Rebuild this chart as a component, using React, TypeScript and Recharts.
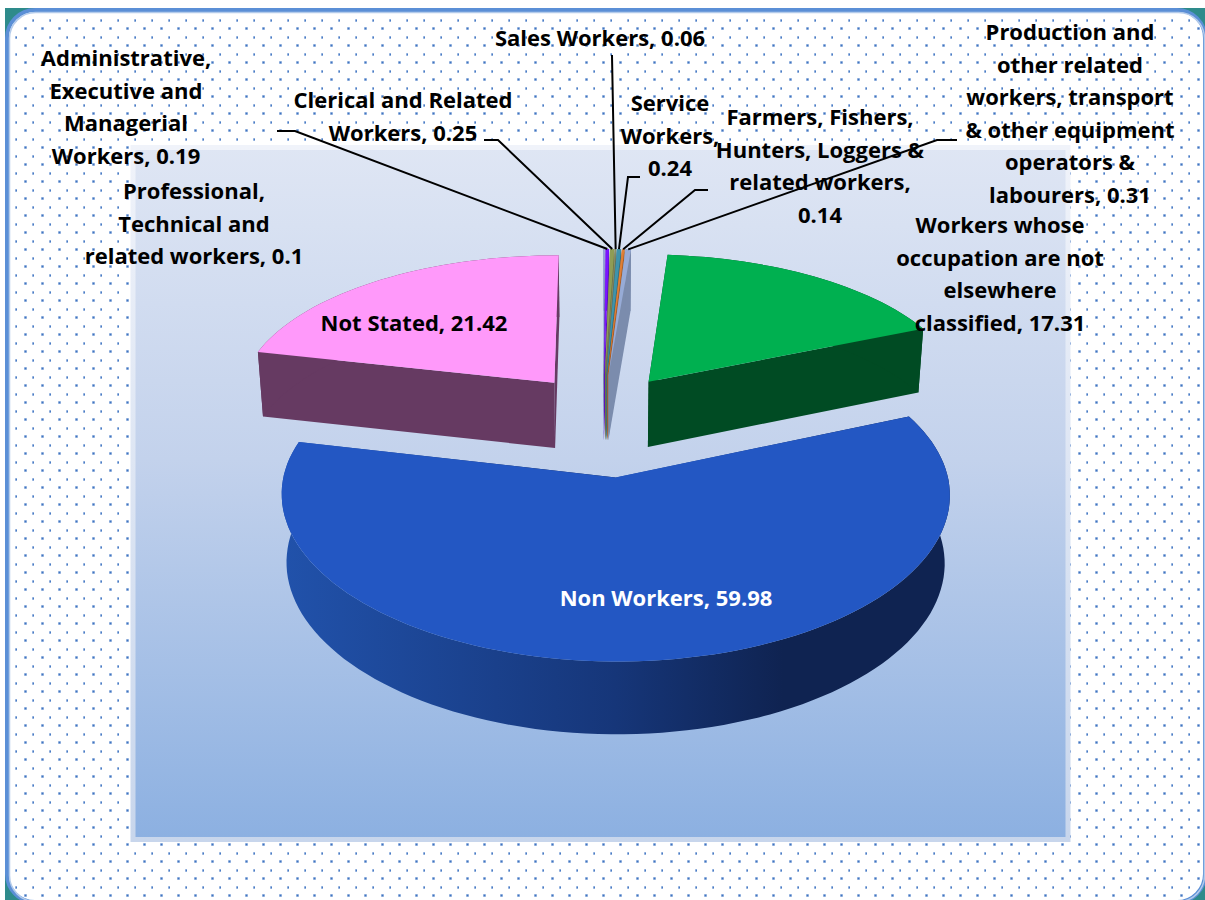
import { PieChart, Pie } from 'recharts'

const categories = [
  'Professional, Technical and related workers',
  'Administrative, Executive and Managerial Workers',
  'Clerical and Related Workers',
  'Sales Workers',
  'Service Workers',
  'Farmers, Fishers, Hunters, Loggers & related workers',
  'Production and other related workers, transport & other equipment operators & labourers',
  'Workers whose occupation are not elsewhere classified',
  'Non Workers',
  'Not Stated',
]
const values = [0.1, 0.19, 0.25, 0.06, 0.24, 0.14, 0.31, 17.31, 59.98, 21.42]
const labelLines = [
  ['Professional,', 'Technical and', 'related workers, 0.1'],
  ['Administrative,', 'Executive and', 'Managerial', 'Workers, 0.19'],
  ['Clerical and Related', 'Workers, 0.25'],
  ['Sales Workers, 0.06'],
  ['Service', 'Workers,', '0.24'],
  ['Farmers, Fishers,', 'Hunters, Loggers &', 'related workers,', '0.14'],
  ['Production and', 'other related', 'workers, transport', '& other equipment', 'operators &', 'labourers, 0.31'],
  ['Workers whose', 'occupation are not', 'elsewhere', 'classified, 17.31'],
  ['Non Workers, 59.98'],
  ['Not Stated, 21.42'],
]

const topColors = ['#9aa6e0', '#7a14ff', '#8f9c55', '#8a8f6a', '#3f93ab', '#e07f35', '#97abd6', '#00b050', '#2357c3', '#ff99fa']
const wallColors = ['#6c74a0', '#5a10c0', '#6b7440', '#6a6e50', '#2f6f80', '#a85f28', '#7b8cad', '#004b23', 'url(#blueWall)', '#663a62']
const explode = [0.25, 0.25, 0.25, 0.25, 0.25, 0.25, 0.25, 0.25, 0.43, 0.25]

// label anchor: centre x, y of first line
const labelPos = [
  [194, 199], [126, 66], [403, 108], [600, 46], [670, 111], [820, 125], [1070, 40], [1000, 233], [666, 606], [414, 331],
]
// elbow of the leader line, from the text end to the knee
const leaders: Record<number, number[][]> = {
  1: [[277, 131], [295, 131]],
  2: [[484, 140], [498, 140]],
  3: [[612, 55], [612, 56]],
  4: [[640, 177], [628, 177]],
  5: [[708, 190], [695, 190]],
  6: [[957, 140], [937, 140]],
}

const tableData = categories.map((name, i) => ({ name, value: values[i] }))

const CX = 603
const CY = 411
const RADIUS = 318
const PERSPECTIVE = 9
const TILT = 1328
const BASE_SHRINK = 0.985
const LINE_H = 32.5

const rad = (deg: number) => (deg * Math.PI) / 180

// maps a point of the pie plane to the screen
function project(cx: number, cy: number, u: number, v: number, bottom = false) {
  const f = PERSPECTIVE / (PERSPECTIVE + v)
  const x = u * Math.pow(f, 0.9) * (bottom ? BASE_SHRINK : 1)
  const y = TILT * (f - 1) + (bottom ? 30 + 36 * f : 0)
  return [cx + x, cy + y]
}

function slicePoints(p: any, index: number, bottom: boolean) {
  const { cx, cy, startAngle, endAngle } = p
  const a0 = 90 - startAngle
  const a1 = 90 - endAngle
  const mid = rad((a0 + a1) / 2)
  const e = explode[index]
  const ou = e * Math.sin(mid)
  const ov = e * Math.cos(mid)
  const steps = Math.max(2, Math.ceil((a1 - a0) / 2))
  const arc: number[][] = []
  for (let i = 0; i <= steps; i++) {
    const t = rad(a0 + ((a1 - a0) * i) / steps)
    const pt = project(cx, cy, (Math.sin(t) + ou) * RADIUS, Math.cos(t) + ov, bottom)
    arc.push(pt)
  }
  return { apex: project(cx, cy, ou * RADIUS, ov, bottom), arc }
}

const toPath = (pts: number[][]) => 'M' + pts.map((q) => q[0].toFixed(1) + ',' + q[1].toFixed(1)).join('L') + 'Z'

function Slice3D(props: any) {
  const index = props.index ?? categories.indexOf(props.name)
  const top = slicePoints(props, index, false)
  const base = slicePoints(props, index, true)
  const wall = wallColors[index]
  const last = top.arc.length - 1
  return (
    <g>
      <path d={toPath([top.apex, top.arc[0], base.arc[0], base.apex])} fill={wall} />
      <path d={toPath([top.apex, top.arc[last], base.arc[last], base.apex])} fill={wall} />
      <path d={toPath([...top.arc, ...[...base.arc].reverse()])} fill={wall} />
      <path d={toPath([top.apex, ...top.arc])} fill={topColors[index]} />
    </g>
  )
}

function SliceLabel(props: any) {
  const i = props.index
  const [x, y] = labelPos[i]
  return (
    <text
      x={x}
      y={y}
      textAnchor="middle"
      fontFamily="'Open Sans', sans-serif"
      fontWeight={700}
      fontSize={22}
      fill={i === 8 ? '#ffffff' : '#000000'}
    >
      {labelLines[i].map((line, k) => (
        <tspan key={k} x={x} y={y + k * LINE_H}>
          {line}
        </tspan>
      ))}
    </text>
  )
}

function LeaderLine(props: any) {
  const i = props.index
  const knee = leaders[i]
  if (!knee) return <g />
  const theta = rad(90 - props.midAngle)
  const e = explode[i]
  const end = project(
    CX,
    CY,
    (Math.sin(theta) + e * Math.sin(theta)) * RADIUS,
    Math.cos(theta) + e * Math.cos(theta),
  )
  const pts = [...knee, end]
  return (
    <polyline
      points={pts.map((q) => q.join(',')).join(' ')}
      fill="none"
      stroke="#000000"
      strokeWidth={2}
    />
  )
}

export default function App() {
  return (
    <div style={{ position: 'absolute', left: 0, top: 0, width: 1205, height: 900, background: '#fff', overflow: 'hidden' }}>
      <svg width={1205} height={900} style={{ position: 'absolute', left: 0, top: 0 }}>
        <defs>
          <pattern id="dots" patternUnits="userSpaceOnUse" width={17} height={17}>
            <rect x={15} y={2} width={3} height={3} fill="#c9d9f0" />
            <rect x={7} y={10} width={3} height={3} fill="#c9d9f0" />
            <rect x={15.5} y={2.5} width={2} height={2} fill="#4a7cc4" />
            <rect x={7.5} y={10.5} width={2} height={2} fill="#3f74c0" />
          </pattern>
          <linearGradient id="plotFill" x1="0" y1="0" x2="0" y2="1">
            <stop offset="0" stopColor="#dfe6f4" />
            <stop offset="0.45" stopColor="#c3d2ec" />
            <stop offset="1" stopColor="#8cb0e1" />
          </linearGradient>
          <linearGradient id="plotEdge" x1="0" y1="0" x2="0" y2="1">
            <stop offset="0" stopColor="#f0f3fa" />
            <stop offset="1" stopColor="#c8d6ec" />
          </linearGradient>
          <linearGradient id="blueWall" x1="0" y1="0" x2="1" y2="0">
            <stop offset="0" stopColor="#2152ab" />
            <stop offset="0.5" stopColor="#163679" />
            <stop offset="0.75" stopColor="#0f2351" />
            <stop offset="1" stopColor="#0f2351" />
          </linearGradient>
        </defs>
        <rect x={5} y={8} width={1200} height={892} fill="#2e8b8b" />
        <rect x={7} y={10} width={1198} height={892} rx={28} fill="#ffffff" stroke="#5b8fd6" strokeWidth={4} />
        <rect x={9.5} y={12.5} width={1195} height={889} rx={26} fill="url(#dots)" stroke="#b3cbeb" strokeWidth={1.5} />
        <rect x={133} y={147.5} width={935} height={692} fill="url(#plotFill)" stroke="url(#plotEdge)" strokeWidth={5} />
      </svg>
      <div style={{ position: 'absolute', left: 0, top: 0 }}>
        <PieChart width={1205} height={900} margin={{ top: 0, right: 0, bottom: 0, left: 0 }}>
          <Pie
            data={tableData}
            dataKey="value"
            nameKey="name"
            cx={CX}
            cy={CY}
            innerRadius={0}
            outerRadius={RADIUS}
            startAngle={90}
            endAngle={-270}
            stroke="none"
            isAnimationActive={false}
            shape={Slice3D}
            inactiveShape={Slice3D}
            label={SliceLabel}
            labelLine={LeaderLine}
          />
        </PieChart>
      </div>
    </div>
  )
}
